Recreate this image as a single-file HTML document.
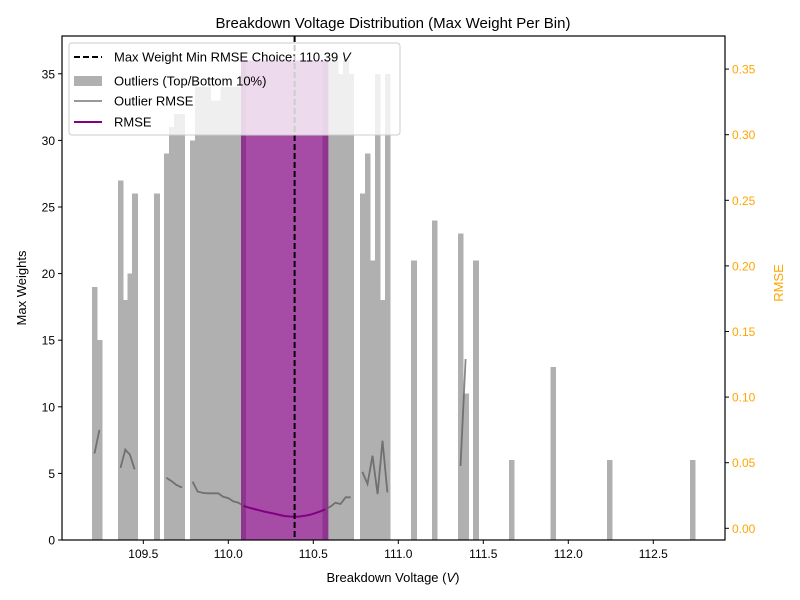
<!DOCTYPE html>
<html><head><meta charset="utf-8"><style>
body{margin:0;background:#fff}
svg{display:block;font-family:"Liberation Sans","DejaVu Sans",sans-serif}
</style></head><body>
<svg id="chart" width="800" height="600" viewBox="0 0 800 600">
<rect width="800" height="600" fill="#fff"/>
<g id="plot"></g>
<text x="393" y="28" text-anchor="middle" font-size="15" fill="#000">Breakdown Voltage Distribution (Max Weight Per Bin)</text>
<text x="393" y="582" text-anchor="middle" font-size="13" fill="#000">Breakdown Voltage (<tspan font-style="italic">V</tspan>)</text>
<text transform="translate(26,288) rotate(-90)" text-anchor="middle" font-size="13" fill="#000">Max Weights</text>
<text transform="translate(783,283) rotate(-90)" text-anchor="middle" font-size="13" fill="orange">RMSE</text>
</svg>
<script>
const outlierX=[109.213,109.242,109.366,109.394,109.422,109.449,109.579,109.636,109.666,109.695,109.728,109.790,109.820,109.850,109.880,109.910,109.940,109.970,110.000,110.030,110.060,110.090,110.570,110.600,110.630,110.660,110.690,110.720,110.789,110.819,110.848,110.878,110.907,110.936,111.091,111.213,111.366,111.396,111.455,111.665,111.910,112.242,112.731];
const outlierH=[19,15,27,18,20,26,26,29,31,32,32,30,34,34,34,33,33,34,34,34,34,36,36,36,36,35,36,35,26,29,21,35,18,35,21,24,23,11,21,6,13,6,6];
const mainX=[110.09,110.12,110.15,110.18,110.21,110.24,110.27,110.30,110.33,110.36,110.39,110.42,110.45,110.48,110.51,110.54,110.57];
const mainH=[36,36,36,36,36,36,36,36,36,36,36,36,36,36,36,36,36];
const mainRmse=[0.0170,0.0158,0.0148,0.0138,0.0128,0.0120,0.0112,0.0102,0.0094,0.0090,0.0088,0.0090,0.0095,0.0103,0.0115,0.0128,0.0145];
const outRmseX=[109.213,109.242,null,109.366,109.394,109.422,109.449,null,109.636,109.666,109.695,109.728,null,109.790,109.820,109.850,109.880,109.910,109.940,109.970,110.000,110.030,110.060,110.090,null,110.570,110.600,110.630,110.660,110.690,110.720,null,110.789,110.819,110.848,110.878,110.907,110.936,null,111.366,111.396];
const outRmseY=[0.057,0.075,null,0.046,0.060,0.056,0.045,null,0.0386,0.036,0.033,0.031,null,0.0355,0.028,0.027,0.0267,0.0267,0.0267,0.024,0.023,0.0205,0.0195,0.017,null,0.0145,0.0165,0.0195,0.0185,0.0236,0.0236,null,0.043,0.0338,0.0553,0.0261,0.0668,0.0274,null,0.0475,0.129];
const choice=110.39;
const xTicks=[109.5,110.0,110.5,111.0,111.5,112.0,112.5];
const yTicks=[0,5,10,15,20,25,30,35];
const rTicks=[0,0.05,0.10,0.15,0.20,0.25,0.30,0.35];
const binW=0.0302;

const L=62,R=725,T=36,B=540;
const X=v=>143.3+(v-109.5)*170;
const Y=v=>540-v*13.32;
const YR=v=>528.3-v*1312;
const NS="http://www.w3.org/2000/svg";
const g=document.getElementById('plot');
function mk(tag,attrs,parent){const e=document.createElementNS(NS,tag);for(const k in attrs)e.setAttribute(k,attrs[k]);(parent||g).appendChild(e);return e;}

outlierX.forEach((v,i)=>{
  const r=mk('rect',{x:X(v-binW/2),y:Y(outlierH[i]),width:binW*170+0.6,height:Y(0)-Y(outlierH[i]),fill:'#b0b0b0','shape-rendering':'crispEdges'});
  
  
});
const mainMin=Math.min(...mainX)-binW/2, mainMax=Math.max(...mainX)+binW/2;
mainX.forEach((v,i)=>{
  const r=mk('rect',{x:X(v-binW/2),y:Y(mainH[i]),width:binW*170+0.6,height:Y(0)-Y(mainH[i]),fill:'#a64ca6','shape-rendering':'crispEdges'});
  
  
});
// overlap of translucent purple over outlier bars
outlierX.forEach((v,i)=>{
  if(v<mainMin||v>mainMax) return;
  const r=mk('rect',{x:X(v-binW/2),y:Y(outlierH[i]),width:binW*170,height:Y(0)-Y(outlierH[i]),fill:'#8e358e','shape-rendering':'crispEdges'});
  
  
});
// outlier rmse line
let d='',pen=false;
outRmseX.forEach((v,i)=>{
  if(v===null){pen=false;return;}
  d+=(pen?'L':'M')+X(v).toFixed(1)+' '+YR(outRmseY[i]).toFixed(1);pen=true;
});
const ol=mk('path',{d:d,fill:'none',stroke:'#555','stroke-opacity':0.7,'stroke-width':1.8});


const md=mainX.map((v,i)=>(i?'L':'M')+X(v).toFixed(1)+' '+YR(mainRmse[i]).toFixed(1)).join('');
const ml=mk('path',{d:md,fill:'none',stroke:'purple','stroke-width':2});


const cl=mk('line',{x1:X(choice),x2:X(choice),y1:T,y2:B,stroke:'#000','stroke-width':2,'stroke-dasharray':'6,3'});



// frame
const fr=mk('rect',{x:L,y:T,width:R-L,height:B-T,fill:'none',stroke:'#000','stroke-width':1.2});


xTicks.forEach(v=>{
  mk('line',{x1:X(v),x2:X(v),y1:B,y2:B+4,stroke:'#000'});
  const t=mk('text',{x:X(v),y:B+18,'text-anchor':'middle','font-size':12});t.textContent=v.toFixed(1);
  
  
});
yTicks.forEach(v=>{
  mk('line',{x1:L-4,x2:L,y1:Y(v),y2:Y(v),stroke:'#000'});
  const t=mk('text',{x:L-7,y:Y(v)+4.5,'text-anchor':'end','font-size':12});t.textContent=v;
  
  
});
rTicks.forEach(v=>{
  mk('line',{x1:R,x2:R+4,y1:YR(v),y2:YR(v),stroke:'#000'});
  const t=mk('text',{x:R+7,y:YR(v)+4.5,'font-size':12,fill:'orange'});t.textContent=v.toFixed(2);
  
  
});

// legend
const lg=mk('g',{});


mk('rect',{x:69,y:43,width:331,height:92,rx:3,fill:'#fff','fill-opacity':0.8,stroke:'#ccc'},lg);
mk('line',{x1:74,x2:102,y1:57,y2:57,stroke:'#000','stroke-width':2,'stroke-dasharray':'6,3'},lg);
mk('rect',{x:74,y:76,width:28,height:10,fill:'#b0b0b0'},lg);
mk('line',{x1:74,x2:102,y1:101,y2:101,stroke:'#999','stroke-width':2},lg);
mk('line',{x1:74,x2:102,y1:122,y2:122,stroke:'purple','stroke-width':2},lg);
const labels=['Max Weight Min RMSE Choice: 110.39 ','Outliers (Top/Bottom 10%)','Outlier RMSE','RMSE'];
const ly=[57,81,101,122];
labels.forEach((s,i)=>{
  const t=mk('text',{x:114,y:ly[i]+4.5,'font-size':13},lg);t.textContent=s;
  if(i===0){const sp=mk('tspan',{'font-style':'italic'},t);sp.textContent='V';}
  
  
});
</script>
</body></html>
